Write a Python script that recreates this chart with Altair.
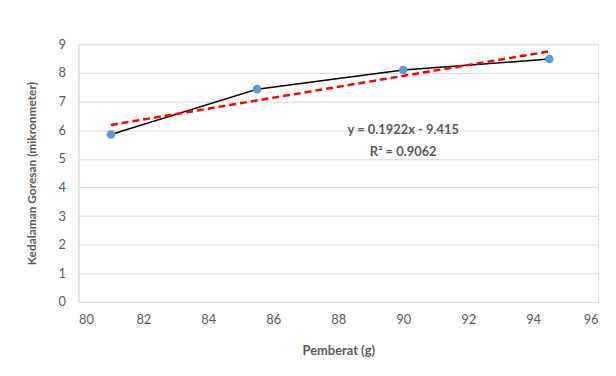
import altair as alt
import pandas as pd

pemberat = [81, 85.5, 90, 94.5]
kedalaman = [5.85, 7.43, 8.1, 8.48]
eq_lines = ["y = 0.1922x - 9.415", "R² = 0.9062"]
eq_x = [90, 90]
eq_y = [6.0, 5.25]
x_ticks = [80, 82, 84, 86, 88, 90, 92, 94, 96]
y_ticks = [0, 1, 2, 3, 4, 5, 6, 7, 8, 9]

df = pd.DataFrame({"x": pemberat, "y": kedalaman})
df_eq = pd.DataFrame({"x": eq_x, "y": eq_y, "t": eq_lines})

FONT = "Lato"
GRAY = "#595959"

xs = alt.Scale(domain=[80, 96], nice=False, zero=False)
ys = alt.Scale(domain=[0, 9], nice=False)

xaxis = alt.Axis(values=x_ticks, tickCount=20, format="d", grid=False, ticks=False,
                 labelOverlap=False,
                 domain=True, domainColor="#d9d9d9", labelColor=GRAY,
                 labelFontSize=13, labelFont=FONT, labelPadding=12,
                 titleFont=FONT, titleFontSize=13, titleColor=GRAY,
                 titleFontWeight="bold", titlePadding=18)
yaxis = alt.Axis(values=y_ticks, tickCount=20, format="d", grid=True,
                 gridColor="#d9d9d9",
                 ticks=False, domain=True, domainColor="#d9d9d9",
                 labelOverlap=False,
                 labelColor=GRAY, labelFontSize=13, labelFont=FONT,
                 labelPadding=13, titleFont=FONT, titleFontSize=12,
                 titleColor=GRAY, titleFontWeight="bold", titlePadding=20)

XT = "Pemberat (g)"
YT = "Kedalaman Goresan  (mikronmeter)"

def X():
    return alt.X("x:Q", scale=xs, title=XT, axis=xaxis)

def Y():
    return alt.Y("y:Q", scale=ys, title=YT, axis=yaxis)

base = alt.Chart(df)

line = base.mark_line(color="black", strokeWidth=1.5).encode(x=X(), y=Y())

trend = base.transform_regression("x", "y", method="linear").mark_line(
    color="#FF0000", strokeWidth=2.5, strokeDash=[7, 4]
).encode(x=X(), y=Y())

pts = base.mark_circle(color="#5B9BD5", size=75, opacity=1).encode(x=X(), y=Y())

txt = alt.Chart(df_eq).mark_text(font=FONT, fontSize=13, fontWeight="bold",
                                 color=GRAY).encode(x=X(), y=Y(), text="t:N")

chart = alt.layer(line, trend, pts, txt).properties(
    width=524, height=260,
    autosize=alt.AutoSizeParams(type="none"),
    padding={"left": 71, "top": 35, "right": 10, "bottom": 60},
).configure_view(stroke=None).configure(background="white")

chart.save("out.html", embed_options={"renderer": "svg", "actions": False})
